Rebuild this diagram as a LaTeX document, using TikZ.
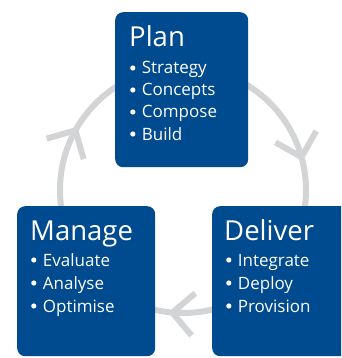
\documentclass[tikz,border=0pt]{standalone}
\usepackage{fontspec}
\setmainfont{Open Sans}
\definecolor{boxblue}{RGB}{0,74,143}
\definecolor{ringgray}{RGB}{211,212,214}
\newcommand\blt{\tikz[baseline=0pt]\fill[white] (2.6pt,6pt) circle[radius=2.6pt];\hspace{6.5pt}}
\begin{document}
\begin{tikzpicture}[x=1pt,y=-1pt,
  box/.style={fill=boxblue, rounded corners=8pt, inner sep=0pt},
  ring/.style={draw=ringgray, line width=6pt},
  title/.style={text=white, font=\fontsize{27.5}{30}\selectfont, anchor=base west, inner sep=0pt},
  item/.style={text=white, font=\fontsize{17}{20}\selectfont, anchor=base west, inner sep=0pt}]
\useasboundingbox (0,0) rectangle (341,358);
\clip (0,0) rectangle (341,358);
\coordinate (c) at (183,190);
\draw[ring] (c) circle[radius=123pt];
\coordinate (aL) at ([shift={(151:123pt)}]c);
\coordinate (aR) at ([shift={(15.5:123pt)}]c);
\coordinate (aB) at ([shift={(265:123pt)}]c);
\draw[ring] ([shift={(196:30pt)}]aL) -- (aL) -- ([shift={(286:30pt)}]aL);
\draw[ring] ([shift={(60.5:30pt)}]aR) -- (aR) -- ([shift={(150.5:30pt)}]aR);
\draw[ring] ([shift={(310:30pt)}]aB) -- (aB) -- ([shift={(40:30pt)}]aB);
\node[box, minimum width=133pt, minimum height=155pt, anchor=north west] (plan) at (115,12) {};
\node[box, minimum width=138pt, minimum height=150pt, anchor=north west] (manage) at (17,206) {};
\node[box, minimum width=140pt, minimum height=150pt, anchor=north west] (deliver) at (212,206) {};
\node[title] (planT) at (129,47) {Plan};
\node[item] (plan1) at (130,74) {\blt Strategy};
\node[item] (plan2) at (130,96) {\blt Concepts};
\node[item] (plan3) at (130,118) {\blt Compose};
\node[item] (plan4) at (130,140) {\blt Build};
\node[title] (manT) at (30,240) {Manage};
\node[item] (man1) at (31,266) {\blt Evaluate};
\node[item] (man2) at (31,289) {\blt Analyse};
\node[item] (man3) at (31,312) {\blt Optimise};
\node[title] (delT) at (224,240) {Deliver};
\node[item] (del1) at (226,266) {\blt Integrate};
\node[item] (del2) at (226,289) {\blt Deploy};
\node[item] (del3) at (226,312) {\blt Provision};
\end{tikzpicture}
\end{document}
